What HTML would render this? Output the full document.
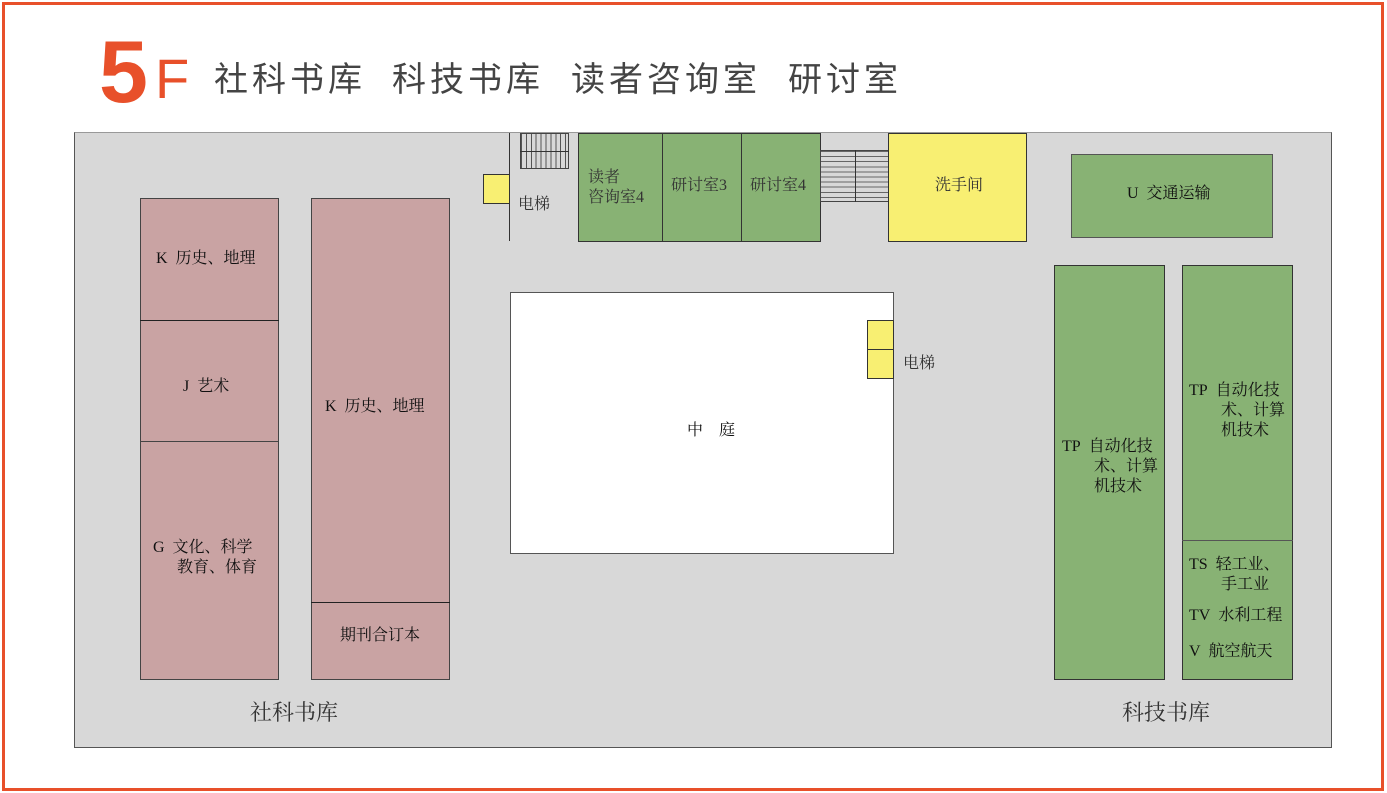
<!DOCTYPE html>
<html><head><meta charset="utf-8"><style>
body{margin:0;width:1387px;height:793px;background:#fff;position:relative;overflow:hidden;font-family:"Liberation Serif","Noto Serif CJK SC",serif;}
div{position:absolute;box-sizing:border-box;}
.t{font-size:16px;color:#111;line-height:20px;white-space:nowrap}
.p{background:#c9a3a3;border:1px solid #444}
.g{background:#88b274;border:1px solid #333}
.y{background:#f8ef72;border:1px solid #333}
.h{position:absolute;top:58px;font-family:'Liberation Sans','Noto Sans CJK SC',sans-serif;color:#444;font-size:34px;line-height:44px;white-space:nowrap;letter-spacing:4px}
</style></head><body>
<div style="left:2px;top:2px;width:1382px;height:789px;border:3px solid #e8502a"></div>
<div style="left:99px;top:22px;font-family:'Liberation Sans',sans-serif;color:#e8502a;font-size:88px;line-height:100px;font-weight:bold">5</div>
<div style="left:155px;top:46px;font-family:'Liberation Sans',sans-serif;color:#e8502a;font-size:56px;line-height:66px">F</div>
<div class="h" style="left:214px">社科书库</div>
<div class="h" style="left:392px">科技书库</div>
<div class="h" style="left:571px">读者咨询室</div>
<div class="h" style="left:788px">研讨室</div>

<div style="left:74px;top:132px;width:1258px;height:616px;background:#d8d8d8;border:1px solid #555;border-top-color:#999"></div>

<div class="p" style="left:140px;top:198px;width:139px;height:482px"></div>
<div style="left:140px;top:320px;width:139px;height:1px;background:#222"></div>
<div style="left:140px;top:441px;width:139px;height:1px;background:#444"></div>
<div class="t" style="left:156px;top:249px">K&nbsp; 历史、地理</div>
<div class="t" style="left:183px;top:377px">J&nbsp; 艺术</div>
<div class="t" style="left:153px;top:538px">G&nbsp; 文化、科学<br>&nbsp;&nbsp;&nbsp;&nbsp;&nbsp; 教育、体育</div>
<div class="p" style="left:311px;top:198px;width:139px;height:482px"></div>
<div style="left:311px;top:602px;width:139px;height:1px;background:#222"></div>
<div class="t" style="left:325px;top:397px">K&nbsp; 历史、地理</div>
<div class="t" style="left:340px;top:626px">期刊合订本</div>
<div class="t" style="left:250px;top:700px;font-size:22px;line-height:26px;color:#333">社科书库</div>

<div class="y" style="left:483px;top:174px;width:27px;height:30px"></div>
<div style="left:509px;top:133px;width:1px;height:108px;background:#333"></div>
<div class="t" style="left:518px;top:195px;color:#333">电梯</div>
<div style="left:520px;top:133px;width:49px;height:36px;border:1px solid #444;background:repeating-linear-gradient(90deg,#555 0 1px,#d8d8d8 1px 4.9px)"></div>
<div style="left:520px;top:151px;width:49px;height:1px;background:#333"></div>
<div class="g" style="left:578px;top:133px;width:85px;height:109px"></div>
<div class="g" style="left:662px;top:133px;width:80px;height:109px"></div>
<div class="g" style="left:741px;top:133px;width:80px;height:109px"></div>
<div class="t" style="left:588px;top:168px;color:#333">读者<br>咨询室4</div>
<div class="t" style="left:671px;top:176px;color:#333">研讨室3</div>
<div class="t" style="left:750px;top:176px;color:#333">研讨室4</div>
<div style="left:820px;top:150px;width:69px;height:52px;border:1px solid #444;background:repeating-linear-gradient(180deg,#666 0 1px,#d8d8d8 1px 5.1px)"></div>
<div style="left:855px;top:150px;width:1px;height:52px;background:#333"></div>
<div class="y" style="left:888px;top:133px;width:139px;height:109px"></div>
<div class="t" style="left:935px;top:176px;color:#333">洗手间</div>

<div style="left:510px;top:292px;width:384px;height:262px;background:#fff;border:1px solid #555"></div>
<div class="t" style="left:687px;top:421px">中&nbsp;&nbsp;&nbsp;&nbsp;庭</div>
<div class="y" style="left:867px;top:320px;width:27px;height:30px"></div>
<div class="y" style="left:867px;top:349px;width:27px;height:30px"></div>
<div class="t" style="left:903px;top:354px;color:#333">电梯</div>

<div class="g" style="left:1071px;top:154px;width:202px;height:84px;border-color:#555"></div>
<div class="t" style="left:1127px;top:184px">U&nbsp; 交通运输</div>
<div class="g" style="left:1054px;top:265px;width:111px;height:415px"></div>
<div class="t" style="left:1062px;top:437px">TP&nbsp; 自动化技<br>&nbsp;&nbsp;&nbsp;&nbsp;&nbsp;&nbsp;&nbsp;&nbsp;术、计算<br>&nbsp;&nbsp;&nbsp;&nbsp;&nbsp;&nbsp;&nbsp;&nbsp;机技术</div>
<div class="g" style="left:1182px;top:265px;width:111px;height:415px"></div>
<div style="left:1182px;top:540px;width:111px;height:1px;background:#555"></div>
<div class="t" style="left:1189px;top:381px">TP&nbsp; 自动化技<br>&nbsp;&nbsp;&nbsp;&nbsp;&nbsp;&nbsp;&nbsp;&nbsp;术、计算<br>&nbsp;&nbsp;&nbsp;&nbsp;&nbsp;&nbsp;&nbsp;&nbsp;机技术</div>
<div class="t" style="left:1189px;top:555px">TS&nbsp; 轻工业、<br>&nbsp;&nbsp;&nbsp;&nbsp;&nbsp;&nbsp;&nbsp; 手工业</div>
<div class="t" style="left:1189px;top:606px">TV&nbsp; 水利工程</div>
<div class="t" style="left:1189px;top:642px">V&nbsp; 航空航天</div>
<div class="t" style="left:1122px;top:700px;font-size:22px;line-height:26px;color:#333">科技书库</div>
</body></html>
